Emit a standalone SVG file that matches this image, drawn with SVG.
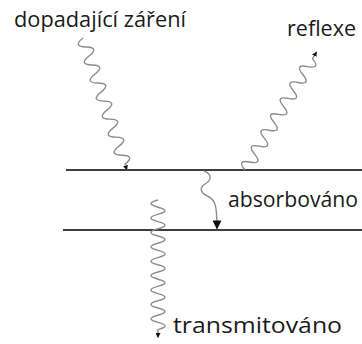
<svg xmlns="http://www.w3.org/2000/svg" width="362" height="344" viewBox="0 0 362 344">
  <style>
    .label { font-family: "Open Sans", "Noto Sans", "Liberation Sans", sans-serif; font-size: 21px; fill: #1a1a1a; }
    .surface { stroke: #3e3e3e; stroke-width: 2; fill: none; }
    .wave { stroke: #8c8c8c; stroke-width: 1.4; fill: none; stroke-linejoin: round; }
  </style>
  <defs>
    <marker id="tip" viewBox="0 0 6 6" refX="5.5" refY="3" markerWidth="5" markerHeight="5" markerUnits="userSpaceOnUse" orient="auto">
      <path d="M0,0 L6,3 L0,6 z" fill="#111"/>
    </marker>
    <marker id="tipBig" viewBox="0 0 10 10" refX="9.5" refY="5" markerWidth="9" markerHeight="9" markerUnits="userSpaceOnUse" orient="auto">
      <path d="M0,0 L10,5 L0,10 z" fill="#111"/>
    </marker>
  </defs>

  <!-- layer boundaries -->
  <g id="surfaces">
    <line class="surface" x1="66" y1="170" x2="362" y2="170"/>
    <line class="surface" x1="63" y1="230" x2="362" y2="230"/>
  </g>

  <!-- wavy rays -->
  <g id="connectors">
    <g id="ray-incident" transform="translate(83,38) rotate(71.6)">
      <path class="wave" marker-end="url(#tip)" d="M0,0 q4.75,13 9.5,0 t9.5,0 t9.5,0 t9.5,0 t9.5,0 t9.5,0 t9.5,0 t9.5,0 t9.5,0 t9.5,0 t9.5,0 t9.5,0 t9.5,0 t9.5,0 l6,0"/>
    </g>
    <g id="ray-reflected" transform="translate(245,170) rotate(-58.8)">
      <path class="wave" marker-end="url(#tip)" d="M0,0 q4.65,-13 9.3,0 t9.3,0 t9.3,0 t9.3,0 t9.3,0 t9.3,0 t9.3,0 t9.3,0 t9.3,0 t9.3,0 t9.3,0 t9.3,0 t9.3,0 t9.3,0 l8,0"/>
    </g>
    <g id="ray-absorbed">
      <path class="wave" marker-end="url(#tipBig)" d="M204,171 C212,174 212,180 205,184 C199,188 200,193 209,197 C215,200 217,205 217,229"/>
    </g>
    <g id="ray-transmitted" transform="translate(158,200) rotate(90)">
      <path class="wave" marker-end="url(#tip)" d="M0,0 q3.6,14 7.2,0 t7.2,0 t7.2,0 t7.2,0 t7.2,0 t7.2,0 t7.2,0 t7.2,0 t7.2,0 t7.2,0 t7.2,0 t7.2,0 t7.2,0 t7.2,0 t7.2,0 t7.2,0 t7.2,0 t7.2,0 l8,0"/>
    </g>
  </g>

  <!-- labels -->
  <g id="label-incident"><text class="label" x="14" y="27" textLength="172" lengthAdjust="spacingAndGlyphs">dopadající záření</text></g>
  <g id="label-reflected"><text class="label" x="287" y="36" textLength="69" lengthAdjust="spacingAndGlyphs">reflexe</text></g>
  <g id="label-absorbed"><text class="label" x="228" y="207" textLength="130" lengthAdjust="spacingAndGlyphs">absorbováno</text></g>
  <g id="label-transmitted"><text class="label" x="173" y="333" textLength="169" lengthAdjust="spacingAndGlyphs">transmitováno</text></g>
</svg>
